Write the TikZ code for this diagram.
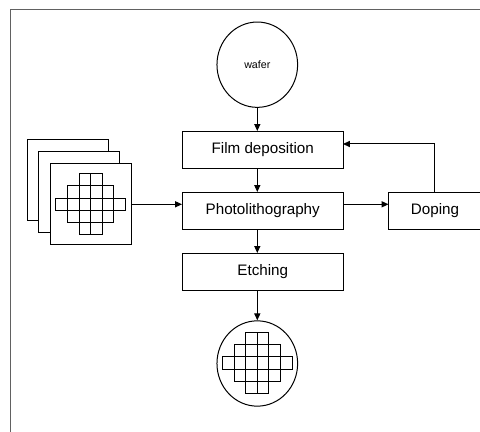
\documentclass[tikz,border=0pt]{standalone}
\usepackage{fontspec}
\setmainfont{Liberation Sans}
\usetikzlibrary{arrows.meta,shapes.geometric}

\tikzset{
  stepbox/.style={draw, line width=0.75pt, minimum width=120.4pt, minimum height=27.4pt, inner sep=0pt, font=\fontsize{11.4}{13}\selectfont},
  waferdisk/.style={draw, ellipse, line width=0.75pt, minimum width=60.5pt, minimum height=64pt, inner sep=0pt},
  masksheet/.style={draw, fill=white, line width=0.75pt, minimum size=60.5pt, inner sep=0pt},
  flow/.style={line width=0.75pt, -{Triangle[length=5.2pt,width=4.6pt]}}
}

% die pattern: rows of 2,4,6,4,2 cells round a centre
\newcommand{\diegrid}[2]{%
  \foreach \r/\w in {0/1,1/2,2/3,3/2,4/1}{
    \pgfmathtruncatemacro{\nc}{2*\w}
    \foreach \c in {1,...,\nc}
      \draw [line width=0.75pt] ({#1+(\c-1-\w)*11.6},{#2+\r*12.2-30.5}) rectangle ++(11.6,12.2);
  }}

\begin{document}
\begin{tikzpicture}[x=0.75pt,y=0.75pt,yscale=-1,xscale=1]
\useasboundingbox (0,0) rectangle (480,432);
\clip (0,0) rectangle (480,432);

%Frame
\draw [color=black!62, line width=1pt] (10.5,9.5) rectangle (490,445);

%Wafer in
\node [waferdisk, font=\fontsize{8}{9}\selectfont] (wafer) at (257.3,64.7) {wafer};

%Process steps
\node [stepbox] (film) at (262.75,149.75) {Film deposition};
\node [stepbox] (photo) at (262.75,210.75) {Photolithography};
\node [stepbox] (etch) at (262.75,271.75) {Etching};
\node [stepbox, minimum width=69pt] (doping) at (435,210.75) {Doping};

%Mask stack
\node [masksheet] (mask1) at (67.8,180) {};
\node [masksheet] (mask2) at (79.3,192.2) {};
\node [masksheet] (mask3) at (90.7,204.3) {};
\diegrid{90.7}{204.3}

%Patterned wafer out
\node [waferdisk] (chip) at (257.3,363.5) {};
\diegrid{257.3}{363}

%Connectors
\coordinate (fb) at (343,144);
\draw [flow] (wafer.south) -- (wafer.south |- film.north);
\draw [flow] (film.south -| wafer) -- (photo.north -| wafer);
\draw [flow] (photo.south -| wafer) -- (etch.north -| wafer);
\draw [flow] (etch.south -| wafer) -- (chip.north);
\draw [flow] (mask3.east) -- (mask3.east -| photo.west);
\draw [flow] (photo.east |- mask3.east) -- (doping.west |- mask3.east);
\draw [flow] (doping.north) |- (fb);

\end{tikzpicture}
\end{document}
